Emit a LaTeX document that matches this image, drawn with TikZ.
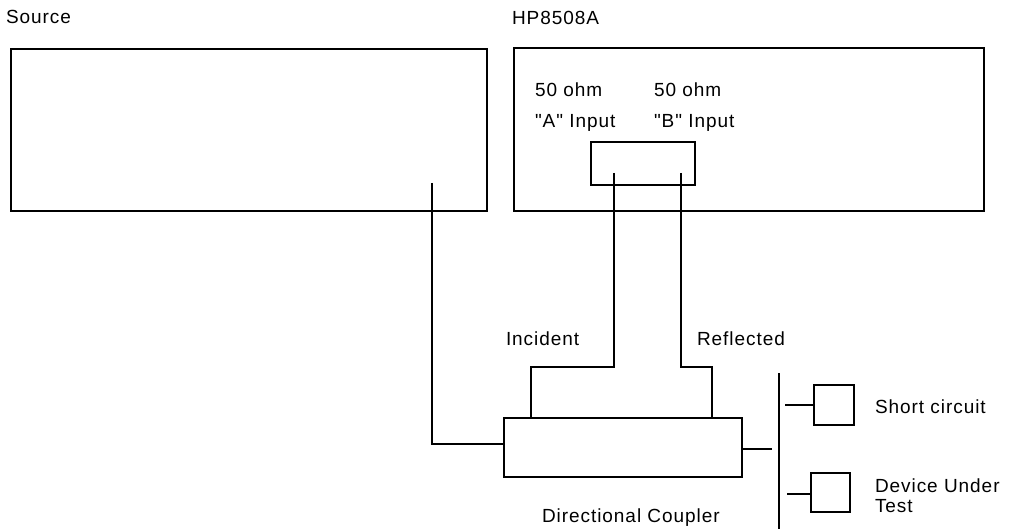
\documentclass[tikz,border=0pt]{standalone}
\usepackage{fontspec}
\setmainfont{Liberation Sans}[LetterSpace=5,Ligatures=TeXOff]
\begin{document}
\begin{tikzpicture}[x=1pt,y=-1pt,
  box/.style={draw,line width=1.4pt,inner sep=0pt,outer sep=0pt},
  thickbox/.style={draw,line width=2.4pt,inner sep=0pt,outer sep=0pt},
  wire/.style={line width=1.4pt},
  lbl/.style={inner sep=0pt,outer sep=0pt,anchor=base west,font=\fontsize{19}{21}\selectfont}]
\useasboundingbox (0,0) rectangle (1016,529);
% boxes
\node[box,minimum width=476pt,minimum height=162pt] (source) at (249,130) {};
\node[thickbox,minimum width=470pt,minimum height=163pt] (hp) at (749,129.5) {};
\node[thickbox,minimum width=104pt,minimum height=43pt] (inp) at (643,163.5) {};
\node[box,minimum width=238pt,minimum height=59pt] (coupler) at (623,447.5) {};
\node[box,line width=1.2pt,minimum width=40pt,minimum height=40pt] (short) at (834,405) {};
\node[box,line width=1.2pt,minimum width=39pt,minimum height=39pt] (dut) at (830.5,492.5) {};
% labels
\node[lbl] (lsrc) at (6,24) {Source};
\node[lbl] (lhp) at (512,25) {HP8508A};
\node[lbl] (la1) at (535,97) {50 ohm};
\node[lbl] (lb1) at (654,97) {50 ohm};
\node[lbl] (la2) at (535,128) {"A" Input};
\node[lbl] (lb2) at (654,128) {"B" Input};
\node[lbl] (linc) at (506,345) {Incident};
\node[lbl] (lref) at (697,345) {Reflected};
\node[lbl] (ldc) at (542,522) {Directional Coupler};
\node[lbl] (lsc) at (875,413) {Short circuit};
\node[lbl] (ldut1) at (875,492) {Device Under};
\node[lbl] (ldut2) at (875,512) {Test};
% ports and junction coordinates
\coordinate (srcport) at (432,183);
\coordinate (aport) at (614,173);
\coordinate (bport) at (681,173);
\coordinate (ajog) at (614,367);
\coordinate (bjog) at (681,367);
\coordinate (cA) at (531,418);
\coordinate (cB) at (712,418);
\coordinate (outend) at (772,449);
\coordinate (bartop) at (779,373);
\coordinate (barbot) at (779,529);
\coordinate (sstub) at (785,405);
\coordinate (dstub) at (787,494);
% connectors
\draw[wire] (srcport) |- ([yshift=3.5pt]coupler.west);
\draw[wire] (aport) -- (ajog) -| (cA);
\draw[wire] (bport) -- (bjog) -| (cB);
\draw[wire] ([yshift=-1.5pt]coupler.east) -- (outend);
\draw[line width=1.1pt] (bartop) -- (barbot);
\draw[wire] (sstub) -- (short.west);
\draw[wire] (dstub) -- (dstub -| dut.west);
\end{tikzpicture}
\end{document}
